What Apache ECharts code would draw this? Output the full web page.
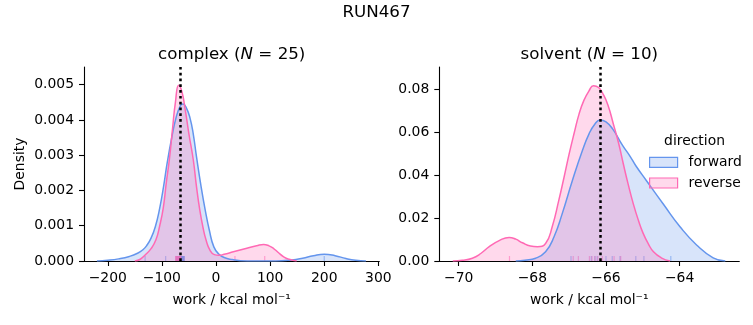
<!DOCTYPE html>
<html>
<head>
<meta charset="utf-8">
<script src="https://cdn.jsdelivr.net/npm/echarts@6/dist/echarts.min.js"></script>
<style>
html, body { margin: 0; padding: 0; background: #fff; }
#chart { width: 753px; height: 325px; }
</style>
</head>
<body>
<div id="chart"></div>
<script>
// KDE curves: [work, density]
var complexForward = [
  [-220, 0], [-200, 0.00002], [-180, 0.00006], [-160, 0.00013], [-145, 0.00022],
  [-135, 0.00032], [-128, 0.00044], [-120, 0.00065], [-112, 0.00098], [-104, 0.0015], [-97, 0.0021],
  [-90, 0.0028], [-82, 0.00348], [-74, 0.00405], [-66, 0.0044], [-61, 0.00445],
  [-55, 0.00435], [-48, 0.00405], [-42, 0.0036], [-36, 0.00295], [-28, 0.00215],
  [-20, 0.00145], [-12, 0.00085], [-4, 0.0004], [5, 0.0002], [15, 0.0001],
  [30, 0.00004], [45, 0.00001], [70, 0], [110, 0], [140, 0.00003], [160, 0.00008],
  [180, 0.00015], [200, 0.00019], [220, 0.00015], [240, 0.00007], [258, 0.00002], [277, 0]
];
var complexReverse = [
  [-150, 0], [-140, 0.00005], [-131, 0.00017], [-120, 0.00035], [-111, 0.0006],
  [-104, 0.001], [-97.5, 0.0015], [-92, 0.0022], [-86, 0.0029], [-80, 0.0038],
  [-75, 0.0045], [-69, 0.00498], [-63, 0.0048], [-57, 0.0043], [-50, 0.0036],
  [-42, 0.00287], [-36, 0.0021], [-30, 0.00145], [-24, 0.00095], [-18.5, 0.0006],
  [-11, 0.0003], [-3, 0.00018], [5, 0.00016], [15, 0.00019], [32, 0.00026],
  [57, 0.00036], [75, 0.00043], [88, 0.00047], [98, 0.00043], [106, 0.00036],
  [115, 0.00024], [125, 0.00012], [135, 0.00005], [149, 0]
];
var solventForward = [
  [-68.45, 0], [-68.2, 0.0004], [-67.91, 0.0013], [-67.64, 0.0043], [-67.41, 0.0113],
  [-67.19, 0.022], [-66.91, 0.0377], [-66.64, 0.0516], [-66.46, 0.0594], [-66.3, 0.064],
  [-66.16, 0.0659], [-66.0, 0.065], [-65.82, 0.0617], [-65.55, 0.054], [-65.35, 0.049],
  [-65.19, 0.0445], [-64.9, 0.0375], [-64.44, 0.0265], [-63.99, 0.016], [-63.54, 0.0075],
  [-63.09, 0.0015], [-62.76, 0]
];
var solventReverse = [
  [-70.16, 0], [-69.9, 0.0003], [-69.63, 0.0013], [-69.4, 0.0035], [-69.17, 0.0067],
  [-68.9, 0.0095], [-68.63, 0.011], [-68.45, 0.0102], [-68.27, 0.0085], [-68.05, 0.007],
  [-67.86, 0.0067], [-67.64, 0.0082], [-67.46, 0.016], [-67.28, 0.0284], [-67.14, 0.039],
  [-67.0, 0.05], [-66.86, 0.06], [-66.73, 0.0687], [-66.6, 0.075], [-66.46, 0.0795],
  [-66.34, 0.0819], [-66.2, 0.081], [-66.08, 0.078], [-65.95, 0.073], [-65.8, 0.064],
  [-65.65, 0.0545], [-65.53, 0.0454], [-65.4, 0.036], [-65.26, 0.0268], [-65.12, 0.019],
  [-64.99, 0.0129], [-64.85, 0.008], [-64.71, 0.0043], [-64.5, 0.0015], [-64.26, 0]
];

// individual work values (rug)
var complexForwardRug = [-131, -93, 200, -65.4, -65, -64.5, -64.2, -64, -63.5, -63.2, -63,
  -62.8, -62.5, -62, -61.8, -61.5, -61, -60.8, -60.5, -60.2, -60, -59.7, -59.5, -59.3, -59];
var complexReverseRug = [35, 90, -74.6, -74, -73.5, -73, -72.5, -72, -71.5, -71, -70.5,
  -70, -69.5, -69, -68.5, -68, -67.5, -67, -66.8, -66.5, -66.2, -66, -65.8, -65.5, -65.3];
var solventForwardRug = [-66.95, -66.4, -66.3, -66.24, -66.0, -65.83, -65.62, -65.19, -64.97, -64.24];
var solventReverseRug = [-68.62, -66.89, -66.75, -66.45, -66.38, -66.3, -66.22, -66.1, -65.78, -65.6];

// free energy estimates (dotted lines)
var complexEstimate = -66.7;
var solventEstimate = -66.16;

var complexXTicks = [-200, -100, 0, 100, 200, 300];
var complexYTicks = [0, 0.001, 0.002, 0.003, 0.004, 0.005];
var solventXTicks = [-70, -68, -66, -64];
var solventYTicks = [0, 0.02, 0.04, 0.06, 0.08];

var FONT = 'DejaVu Sans';
var BLUE = '#6495ED';
var PINK = '#FF69B4';

var chart = echarts.init(document.getElementById('chart'));

function minus(v) {
  return String(v).replace('-', '\u2212');
}

function xAxis(grid, min, max, ticks) {
  return {
    gridIndex: grid, type: 'value', min: min, max: max,
    name: 'work / kcal mol\u207B\u00B9', nameLocation: 'middle', nameGap: 32,
    nameMoveOverlap: false,
    nameTextStyle: { fontSize: 13.9, color: '#000', fontFamily: FONT },
    axisLine: { show: true, onZero: false, lineStyle: { color: '#000', width: 1.1 } },
    axisTick: { show: true, length: 5, customValues: ticks, lineStyle: { color: '#000', width: 1.1 } },
    axisLabel: { customValues: ticks, margin: 10, fontSize: 13.9, color: '#000', fontFamily: FONT, formatter: minus },
    splitLine: { show: false }
  };
}

function yAxis(grid, max, ticks, digits, name) {
  return {
    gridIndex: grid, type: 'value', min: 0, max: max,
    name: name, nameLocation: 'middle', nameGap: 57, nameMoveOverlap: false,
    nameTextStyle: { fontSize: 13.9, color: '#000', fontFamily: FONT },
    axisLine: { show: true, onZero: false, lineStyle: { color: '#000', width: 1.1 } },
    axisTick: { show: true, length: 5, customValues: ticks, lineStyle: { color: '#000', width: 1.1 } },
    axisLabel: {
      customValues: ticks, margin: 10, fontSize: 13.9, color: '#000', fontFamily: FONT,
      formatter: function (v) { return v.toFixed(digits); }
    },
    splitLine: { show: false }
  };
}

function kde(name, grid, data, color, estimate) {
  var s = {
    name: name, type: 'line', xAxisIndex: grid, yAxisIndex: grid,
    data: data, smooth: 0.5, symbol: 'none', silent: true,
    lineStyle: { color: color, width: 1.5 },
    itemStyle: { color: color },
    areaStyle: { color: color, opacity: 0.25 }
  };
  if (estimate !== undefined) {
    s.markLine = {
      silent: true, symbol: 'none', label: { show: false },
      lineStyle: { color: '#000', width: 2.5, type: [2.7, 3.1] },
      data: [{ xAxis: estimate }]
    };
  }
  return s;
}

function rug(name, grid, values, color) {
  return {
    name: name, type: 'scatter', xAxisIndex: grid, yAxisIndex: grid, silent: true,
    data: values.map(function (v) { return [v, 0]; }),
    symbol: 'rect', symbolSize: [1.2, 5], symbolOffset: [0, -2.5],
    itemStyle: { color: color, opacity: 0.55 }
  };
}

var option = {
  animation: false,
  backgroundColor: '#fff',
  textStyle: { fontFamily: FONT },
  grid: [
    { left: 84, top: 67, width: 295.3, height: 194, outerBoundsMode: 'none' },
    { left: 439.3, top: 67, width: 300, height: 194, outerBoundsMode: 'none' }
  ],
  xAxis: [
    xAxis(0, -243.9, 301.7, complexXTicks),
    xAxis(1, -70.526, -62.38, solventXTicks)
  ],
  yAxis: [
    yAxis(0, 0.0055, complexYTicks, 3, 'Density'),
    yAxis(1, 0.0906, solventYTicks, 2, '')
  ],
  legend: {
    orient: 'vertical', left: 649, top: 155.3, padding: 0,
    itemWidth: 28, itemHeight: 10, itemGap: 6.7,
    selectedMode: false,
    textStyle: { fontSize: 13.9, color: '#000', fontFamily: FONT, lineHeight: 14, padding: [0, 0, 0, 6] },
    data: [
      { name: 'forward', icon: 'rect', itemStyle: { color: 'rgba(100,149,237,0.25)', borderColor: BLUE, borderWidth: 1.2 } },
      { name: 'reverse', icon: 'rect', itemStyle: { color: 'rgba(255,105,180,0.25)', borderColor: PINK, borderWidth: 1.2 } }
    ]
  },
  graphic: [
    { type: 'text', x: 376.5, y: 12.2, style: { text: 'RUN467', fontSize: 16.7, fontFamily: FONT, fill: '#000', align: 'center', verticalAlign: 'middle' } },
    { type: 'text', x: 231.7, y: 54.7, style: {
      text: 'complex ({i|N} = 25)', fontSize: 16.7, fontFamily: FONT, fill: '#000', align: 'center', verticalAlign: 'middle',
      rich: { i: { fontStyle: 'italic', fontSize: 16.7, fontFamily: FONT, fill: '#000' } } } },
    { type: 'text', x: 589.3, y: 54.7, style: {
      text: 'solvent ({i|N} = 10)', fontSize: 16.7, fontFamily: FONT, fill: '#000', align: 'center', verticalAlign: 'middle',
      rich: { i: { fontStyle: 'italic', fontSize: 16.7, fontFamily: FONT, fill: '#000' } } } },
    { type: 'text', x: 694.5, y: 141, style: { text: 'direction', fontSize: 13.9, fontFamily: FONT, fill: '#000', align: 'center', verticalAlign: 'middle' } }
  ],
  series: [
    kde('forward', 0, complexForward, BLUE),
    kde('reverse', 0, complexReverse, PINK, complexEstimate),
    rug('forward rug', 0, complexForwardRug, BLUE),
    rug('reverse rug', 0, complexReverseRug, PINK),
    kde('forward', 1, solventForward, BLUE),
    kde('reverse', 1, solventReverse, PINK, solventEstimate),
    rug('forward rug', 1, solventForwardRug, BLUE),
    rug('reverse rug', 1, solventReverseRug, PINK)
  ]
};

chart.setOption(option);
</script>
</body>
</html>
